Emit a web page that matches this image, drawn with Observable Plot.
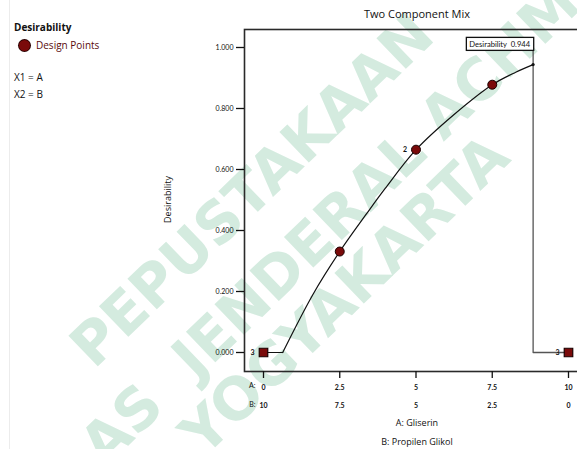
<!DOCTYPE html>
<html>
<head>
<meta charset="utf-8">
<script src="https://cdn.jsdelivr.net/npm/d3@7"></script>
<script src="https://cdn.jsdelivr.net/npm/@observablehq/plot@0.6"></script>
<style>
  html, body { margin: 0; padding: 0; background: #fff; }
  #wrap { position: relative; width: 577px; height: 449px; overflow: hidden; font-family: "Open Sans", "Noto Sans", sans-serif; color: #111; }
  #wrap svg.chart { position: absolute; left: 0; top: 0; z-index: 2; background: transparent; }
  #wm { position: absolute; left: 0; top: 0; z-index: 1; }
  .ov { position: absolute; z-index: 3; white-space: nowrap; }
  #edge { position: absolute; left: 9px; top: 0; width: 1px; height: 449px; background: #ececec; z-index: 0; }
</style>
</head>
<body>
<div id="wrap">
  <div id="edge"></div>
  <svg id="wm" width="577" height="449" xmlns="http://www.w3.org/2000/svg">
    <g font-family="DejaVu Sans, sans-serif" font-weight="bold" font-size="58" fill="#d4ebdf">
      <text transform="translate(94,370) rotate(-44)">PEPUSTAKAAN</text>
      <text transform="translate(104,469) rotate(-44)">AS</text>
      <text transform="translate(196,381) rotate(-44)">JENDERAL ACHMAD</text>
      <text transform="translate(204,458) rotate(-44)">YOGYAKARTA</text>
    </g>
  </svg>

  <div class="ov" style="left:0; width:834px; top:6px; text-align:center; font-size:11px;">Two Component Mix</div>
  <div class="ov" style="left:14px; top:20px; font-size:10px; font-weight:bold;">Desirability</div>
  <div class="ov" style="left:19px; top:40px; width:11px; height:11px; border-radius:50%; background:#7a0a0a; box-shadow: 0 0 0 1px #2a0000;"></div>
  <div class="ov" style="left:36px; top:38px; font-size:10px; color:#5a0c0c;">Design Points</div>
  <div class="ov" style="left:14px; top:70px; font-size:10px;">X1 = A</div>
  <div class="ov" style="left:14px; top:87px; font-size:10px;">X2 = B</div>
  <div class="ov" style="left:137px; top:193px; width:60px; font-size:9px; text-align:center; transform: rotate(-90deg); transform-origin: center;">Desirability</div>
  <div class="ov" style="left:0; width:834px; top:416px; text-align:center; font-size:9px;">A: Gliserin</div>
  <div class="ov" style="left:0; width:834px; top:435px; text-align:center; font-size:9px;">B: Propilen Glikol</div>
</div>
<script>
// ---- data ----
const aTicks = [0, 2.5, 5, 7.5, 10];
const bTickLabels = ["10", "7.5", "5", "2.5", "0"];
const yTicks = [0, 0.2, 0.4, 0.6, 0.8, 1.0];

const designA = [0, 2.5, 5, 7.5, 10];
const designD = [0, 0.331, 0.665, 0.878, 0];
const designN = [3, 1, 2, 1, 3];

const flatA = [0, 0.63];
const flatD = [0, 0];
const curveA = [0.63, 1.63, 2.5, 3.38, 3.99, 5.0, 6.22, 7.5, 8.27, 8.84];
const curveD = [0, 0.192, 0.331, 0.455, 0.538, 0.665, 0.778, 0.878, 0.919, 0.944];

const optA = 8.84;
const optD = 0.944;
const optLabel = "Desirability  0.944";
const optLabelD = 1.01;

// ---- tables ----
const design = designA.map((a, i) => ({a, d: designD[i], n: designN[i], end: a === 0 || a === 10}));
const flat = flatA.map((a, i) => ({a, d: flatD[i]}));
const curve = curveA.map((a, i) => ({a, d: curveD[i]}));
const drop = [{a: optA, d: optLabelD}, {a: optA, d: 0}, {a: 10, d: 0}];

const chart = Plot.plot({
  width: 577,
  height: 449,
  marginLeft: 244,
  marginTop: 29,
  marginBottom: 78,
  marginRight: -8,
  className: "chart",
  x: {domain: [0, 10], range: [263, 568]},
  y: {domain: [0, 1], range: [352, 47]},
  style: {fontFamily: "Lato, 'Open Sans', sans-serif", fontSize: "7px", color: "#111", background: "transparent", overflow: "visible"},
  marks: [
    Plot.frame({stroke: "#2a2a2a", strokeWidth: 1.6}),
    Plot.axisY(yTicks, {tickSize: 8, tickPadding: 3, tickFormat: d3.format(".3f"), label: null, fontSize: 7, stroke: "#111", strokeWidth: 1.3}),
    Plot.axisX(aTicks, {tickSize: 7, tickPadding: 7, tickFormat: d => String(d), label: null, fontSize: 7, fontWeight: "bold", stroke: "#111", strokeWidth: 1.3}),
    Plot.axisX(aTicks, {tickSize: 0, tickPadding: 32, tickFormat: (d, i) => bTickLabels[i], label: null, fontSize: 7, fontWeight: "bold"}),
    Plot.text(["A:"], {x: () => 0, frameAnchor: "bottom", dy: 16, dx: -8, textAnchor: "end", fontSize: 7}),
    Plot.text(["B:"], {x: () => 0, frameAnchor: "bottom", dy: 35, dx: -8, textAnchor: "end", fontSize: 7}),
    Plot.line(flat, {x: "a", y: "d", stroke: "#111", strokeWidth: 1.2}),
    Plot.line(curve, {x: "a", y: "d", stroke: "#111", strokeWidth: 1.2, curve: "catmull-rom"}),
    Plot.line(drop, {x: "a", y: "d", stroke: "#555", strokeWidth: 1.3}),
    Plot.dot([{a: optA, d: optD}], {x: "a", y: "d", r: 1.6, fill: "#111"}),
    Plot.dot(design.filter(d => !d.end), {x: "a", y: "d", r: 4.5, fill: "#7a0a0a", stroke: "#1a0000", strokeWidth: 1}),
    Plot.dot(design.filter(d => d.end), {x: "a", y: "d", r: 4.8, symbol: "square", fill: "#7a0a0a", stroke: "#1a0000", strokeWidth: 1.2}),
    Plot.text(design.filter(d => d.n > 1), {x: "a", y: "d", text: d => String(d.n), dx: -9, textAnchor: "end", fontSize: 7, fontWeight: "bold"}),
    Plot.text([{a: optA, d: optLabelD}], {x: "a", y: "d", text: () => optLabel, textAnchor: "end", dx: -3, fontSize: 7.6, className: "optlabel"})
  ]
});

document.getElementById("wrap").appendChild(chart);

// box around the optimum label
const lbl = chart.querySelector(".optlabel text");
if (lbl) {
  const bb = lbl.getBBox();
  const g = lbl.parentNode;
  const tr = lbl.getAttribute("transform");
  const rect = document.createElementNS("http://www.w3.org/2000/svg", "rect");
  rect.setAttribute("x", bb.x - 3);
  rect.setAttribute("y", bb.y - 1.5);
  rect.setAttribute("width", bb.width + 6);
  rect.setAttribute("height", bb.height + 3);
  rect.setAttribute("fill", "#fff");
  rect.setAttribute("stroke", "#111");
  rect.setAttribute("stroke-width", "1.3");
  if (tr) rect.setAttribute("transform", tr);
  g.insertBefore(rect, lbl);
}
</script>
</body>
</html>
